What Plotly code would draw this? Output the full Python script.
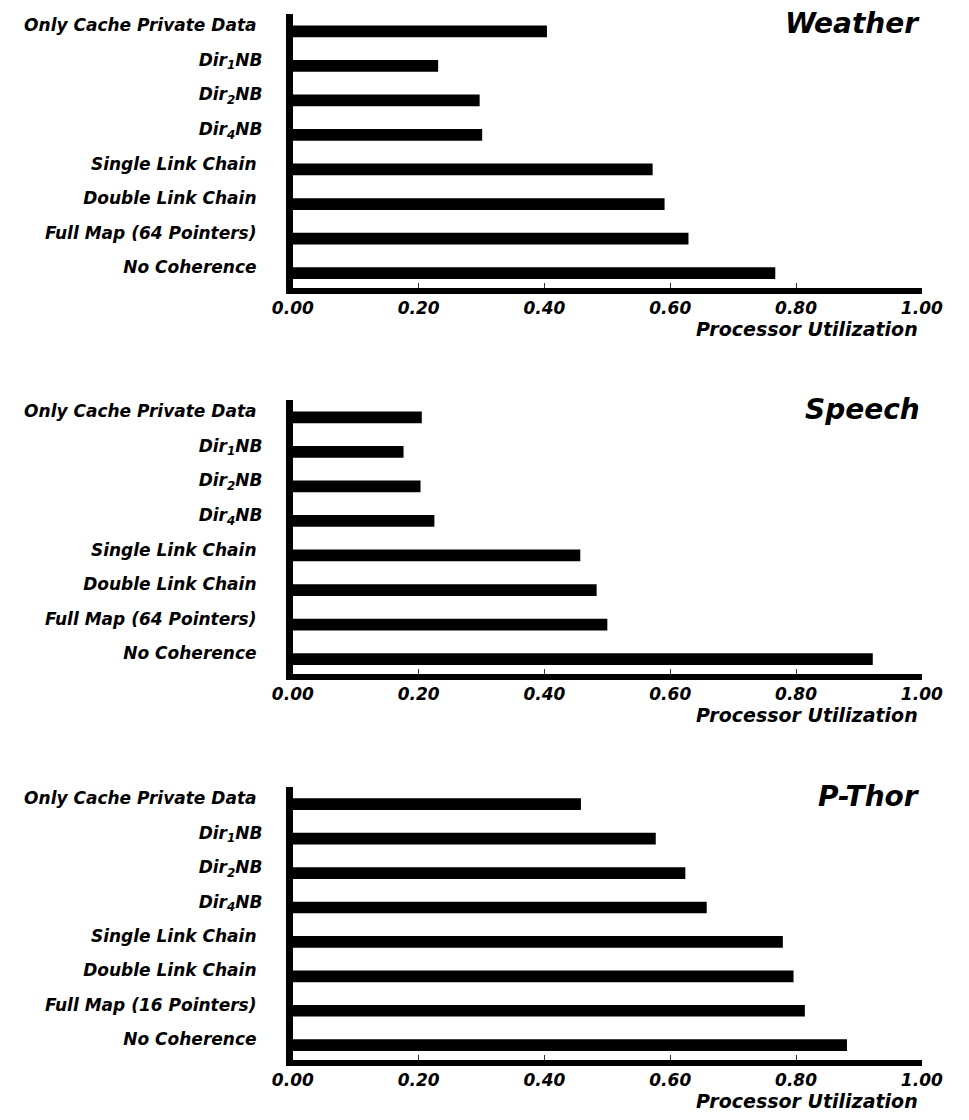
import plotly.graph_objects as go

PAGE_W, PAGE_H = 969, 1120
BODY = 8  # default page margin around the plot div
W, H = PAGE_W - 2 * BODY, PAGE_H - 2 * BODY

categories_64 = [
    "Only Cache Private Data\u00a0",
    "Dir<sub>1</sub>NB",
    "Dir<sub>2</sub>NB",
    "Dir<sub>4</sub>NB",
    "Single Link Chain\u00a0",
    "Double Link Chain\u00a0",
    "Full Map (64 Pointers)\u00a0",
    "No Coherence\u00a0",
]
categories_16 = [
    "Only Cache Private Data\u00a0",
    "Dir<sub>1</sub>NB",
    "Dir<sub>2</sub>NB",
    "Dir<sub>4</sub>NB",
    "Single Link Chain\u00a0",
    "Double Link Chain\u00a0",
    "Full Map (16 Pointers)\u00a0",
    "No Coherence\u00a0",
]

weather = [0.404, 0.231, 0.297, 0.301, 0.572, 0.591, 0.629, 0.767]
speech = [0.205, 0.176, 0.203, 0.225, 0.457, 0.483, 0.500, 0.922]
pthor = [0.458, 0.577, 0.624, 0.658, 0.779, 0.796, 0.814, 0.881]

panel_titles = ["Weather", "Speech", "P-Thor"]
x_tickvals = [0.0, 0.2, 0.4, 0.6, 0.8, 1.0]
x_ticktext = ["0.00", "0.20", "0.40", "0.60", "0.80", "1.00"]
x_title = "Processor Utilization"

FONT = "DejaVu Sans"

# page-pixel layout (top, bottom) of each plot area
panels_px = [(14, 288), (400, 674), (787, 1060)]
x_left_px, x_right_px = 284, 942
LABEL_LIFT = 0.17  # category labels sit slightly above their bars


def px_x(p):
    return (p - BODY) / W


def px_y(p):
    return 1 - (p - BODY) / H


fig = go.Figure()

series = [weather, speech, pthor]
cats = [categories_64, categories_64, categories_16]

for i, (vals, cat, title, (top, bot)) in enumerate(zip(series, cats, panel_titles, panels_px)):
    n = "" if i == 0 else str(i + 1)
    pos = list(range(len(cat)))
    fig.add_trace(go.Bar(
        x=vals, y=pos, orientation="h",
        marker=dict(color="black", line=dict(width=0)),
        width=0.34,
        xaxis="x" + n, yaxis="y" + n,
        showlegend=False,
        customdata=cat,
        hovertemplate="%{customdata}: %{x:.2f}<extra></extra>",
    ))
    ydom = [px_y(bot), px_y(top)]
    xdom = [px_x(x_left_px), px_x(x_right_px)]
    fig.update_layout(**{
        "xaxis" + n: dict(
            domain=xdom, anchor="y" + n, range=[0, 1],
            tickvals=x_tickvals, ticktext=x_ticktext,
            ticks="inside", ticklen=5, tickwidth=1, tickcolor="#333",
            showline=True, linewidth=6, linecolor="black",
            showgrid=False, zeroline=False,
            ticklabeloverflow="allow",
            tickfont=dict(family=FONT, size=17, color="black", weight="bold", style="italic"),
        ),
        "yaxis" + n: dict(
            domain=ydom, anchor="x" + n, type="linear",
            tickmode="array",
            tickvals=[p - LABEL_LIFT for p in pos], ticktext=cat,
            range=[7.43, -0.5],
            showline=True, linewidth=7, linecolor="black",
            ticks="", showgrid=False, zeroline=False,
            ticklabelstandoff=20,
            tickfont=dict(family=FONT, size=17, color="black", weight="bold", style="italic"),
        ),
    })
    fig.add_annotation(
        text=title, xref="paper", yref="paper",
        x=px_x(x_right_px), y=px_y(top - 9),
        xanchor="right", yanchor="top", showarrow=False,
        font=dict(family=FONT, size=28, color="black", weight="bold", style="italic"),
    )
    fig.add_annotation(
        text=x_title, xref="paper", yref="paper",
        x=px_x(x_right_px - 2), y=px_y(bot + 41),
        xanchor="right", yanchor="middle", showarrow=False,
        font=dict(family=FONT, size=19, color="black", weight="bold", style="italic"),
    )

fig.update_layout(
    width=W, height=H,
    margin=dict(l=0, r=0, t=0, b=0),
    paper_bgcolor="white", plot_bgcolor="white",
)

fig.write_html("out.html")
